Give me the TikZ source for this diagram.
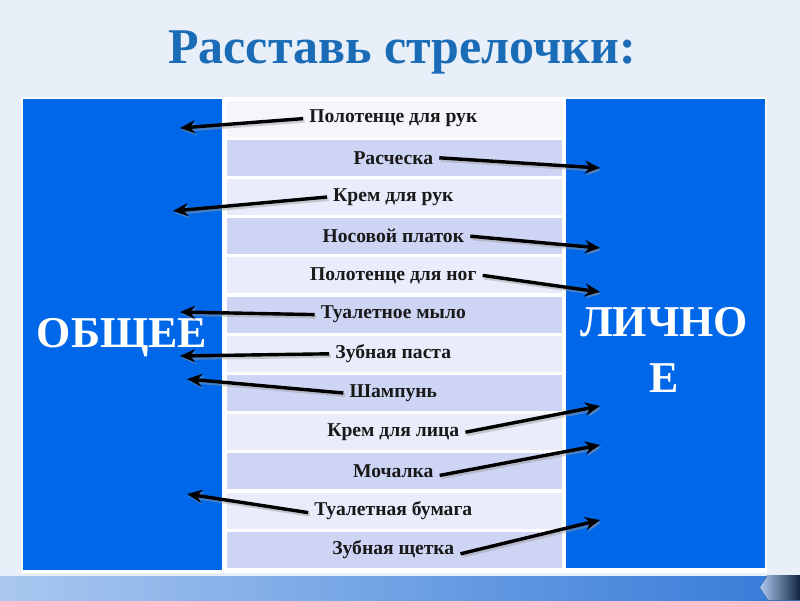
\documentclass[tikz,border=0pt]{standalone}
\usepackage{fontspec}
\setmainfont{Liberation Serif}
\usepackage{tikz}
\usetikzlibrary{arrows.meta,positioning}
\definecolor{SlideBg}{RGB}{232,239,249}
\definecolor{SlideBlue}{RGB}{0,104,232}
\definecolor{TitleBlue}{RGB}{26,108,182}
\definecolor{RowDark}{RGB}{205,212,244}
\definecolor{RowLight}{RGB}{233,236,250}
\definecolor{RowTop}{RGB}{245,246,252}
\definecolor{BandLeft}{RGB}{170,200,240}
\definecolor{BandRight}{RGB}{52,122,216}

\begin{document}
\begin{tikzpicture}[
  x=1pt, y=-1pt,
  bigbox/.style={fill=SlideBlue, draw=none, anchor=north west, minimum width=199pt, minimum height=471pt, inner sep=0pt},
  cell/.style={anchor=north west, minimum width=337pt, minimum height=37.6pt, inner sep=0pt, draw=white, line width=1.6pt},
  item/.style={font=\fontsize{19.6}{21}\selectfont\bfseries, inner xsep=6pt, text=black!90},
  arr/.style={-{Stealth[length=15pt, width=13pt]}, line width=3.4pt, draw=black,
    preaction={draw=black!40, opacity=0.45, line width=4pt, transform canvas={shift={(1.5pt,-2pt)}}}},
  bigword/.style={font=\fontsize{44}{56}\selectfont\bfseries, text=white, align=center}
]
% background of the slide
\fill[SlideBg] (0,0) rectangle (800,600);
\fill[left color=BandLeft, right color=BandRight] (0,575) rectangle (800,600);
\fill[white!70!BandLeft] (0,574) rectangle (800,576);
\fill[left color=BandRight!40, right color=black!70!BandRight] (768,575) -- (800,575) -- (800,600) -- (768,600) -- (760,587.5) -- cycle;
\fill[white] (21,97) rectangle (767,573);

\node[font=\fontsize{50}{56}\selectfont\bfseries, text=TitleBlue] (title) at (402,52) {Расставь стрелочки:};

% two columns
\node[bigbox] (obsh) at (23,99) {};
\node[bigbox, minimum height=469pt] (lichn) at (566,99) {};
\node[bigword] (obshtext) at (122,338) {ОБЩЕЕ};
\node[bigword] (lichntext) at (664,350) {ЛИЧНО\\Е};

% table rows
\foreach \n/\txt/\col [count=\i] in {
  r1/Полотенце для рук/RowTop,
  r2/Расческа/RowDark,
  r3/Крем для рук/RowLight,
  r4/Носовой платок/RowDark,
  r5/Полотенце для ног/RowLight,
  r6/Туалетное мыло/RowDark,
  r7/Зубная паста/RowLight,
  r8/Шампунь/RowDark,
  r9/Крем для лица/RowLight,
  r10/Мочалка/RowDark,
  r11/Туалетная бумага/RowLight,
  r12/Зубная щетка/RowDark}{
  \node[cell, fill=\col] (\n) at (225,{99+(\i-1)*39.2}) {};
  \node[item] (t\n) at ([xshift=-1pt]\n.center) {\txt};
}

% arrow heads
\coordinate (h1) at (180,128);
\coordinate (h2) at (600,168);
\coordinate (h3) at (173,211);
\coordinate (h4) at (600,248);
\coordinate (h5) at (600,292);
\coordinate (h6) at (180,312);
\coordinate (h7) at (180,356);
\coordinate (h8) at (187,379);
\coordinate (h9) at (600,406);
\coordinate (h10) at (600,445);
\coordinate (h11) at (187,494);
\coordinate (h12) at (600,520);

\draw[arr] (tr1.west) -- (h1);
\draw[arr] (tr2.east) -- (h2);
\draw[arr] (tr3.west) -- (h3);
\draw[arr] (tr4.east) -- (h4);
\draw[arr] (tr5.east) -- (h5);
\draw[arr] (tr6.west) -- (h6);
\draw[arr] (tr7.west) -- (h7);
\draw[arr] (tr8.west) -- (h8);
\draw[arr] (tr9.east) -- (h9);
\draw[arr] ([yshift=-4pt]tr10.east) -- (h10);
\draw[arr] ([yshift=-2pt]tr11.west) -- (h11);
\draw[arr] ([yshift=-4pt]tr12.east) -- (h12);
\end{tikzpicture}
\end{document}
